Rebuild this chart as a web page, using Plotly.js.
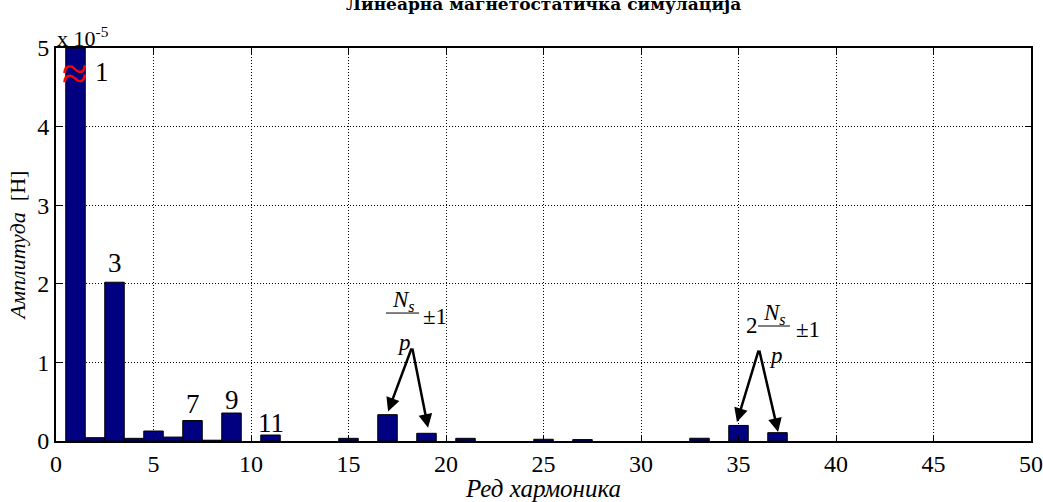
<!DOCTYPE html>
<html>
<head>
<meta charset="utf-8">
<script src="https://cdn.plot.ly/plotly-3.0.1.min.js"></script>
<style>
  html, body { margin: 0; padding: 0; background: #fff; }
  #chart { width: 1043px; height: 502px; }
</style>
</head>
<body>
<div id="chart"></div>
<script>
// Harmonic spectrum of the inductance, amplitudes in units of 1e-5 H
const harmonicOrder = [1, 2, 3, 4, 5, 6, 7, 8, 9, 11, 15, 17, 19, 21, 25, 27, 33, 35, 37];
const amplitudeE5   = [5.0, 0.042, 2.02, 0.034, 0.127, 0.05, 0.26, 0.01, 0.356, 0.076,
                       0.034, 0.335, 0.098, 0.034, 0.022, 0.018, 0.035, 0.198, 0.106];
const xTicks = [0, 5, 10, 15, 20, 25, 30, 35, 40, 45, 50];
const yTicks = [0, 1, 2, 3, 4, 5];
const labelledOrders = [3, 7, 9, 11];

const serif = 'Liberation Serif';
const valueOf = h => amplitudeE5[harmonicOrder.indexOf(h)];

const trace = {
  type: 'bar',
  x: harmonicOrder,
  y: amplitudeE5,
  width: 1,
  marker: { color: '#000080', line: { color: '#000000', width: 1 } },
  hoverinfo: 'x+y'
};

// label offsets above the bar tops (in axis units)
const labelLift = { 3: 0.245, 7: 0.21, 9: 0.165, 11: 0.153 };

const annotations = [];
labelledOrders.forEach(h => {
  annotations.push({
    x: h, y: valueOf(h) + labelLift[h], xref: 'x', yref: 'y',
    text: String(h), showarrow: false, yanchor: 'middle',
    font: { family: serif, size: 27, color: '#000' }
  });
});

// fundamental, drawn clipped with a break mark
annotations.push({
  x: 2.36, y: 4.69, xref: 'x', yref: 'y', text: '1', showarrow: false,
  font: { family: serif, size: 27, color: '#000' }
});
annotations.push({
  x: 0.97, y: 4.67, xref: 'x', yref: 'y', text: '≈', showarrow: false,
  font: { family: serif, size: 46, color: '#ff0000' }
});

// multiplier of the y axis
annotations.push({
  x: 0, y: 1, xref: 'paper', yref: 'paper', xanchor: 'left', yanchor: 'bottom',
  text: 'x 10<sup>-5</sup>', showarrow: false, yshift: -5, xshift: -1,
  font: { family: serif, size: 22, color: '#000' }
});

// title (sits partly above the page edge)
annotations.push({
  x: 0.5, y: 1, xref: 'paper', yref: 'paper', xanchor: 'center', yanchor: 'bottom',
  text: '<b>Линеарна магнетостатичка симулација</b>', showarrow: false, yshift: 32,
  font: { family: 'DejaVu Serif', size: 17, color: '#000' }
});

// slot harmonics Ns/p ± 1 and 2Ns/p ± 1
const fracFont = { family: serif, size: 23, color: '#000' };
function fraction(xc, yLine, prefixX, pmX) {
  annotations.push({ x: xc + 0.05, y: yLine + 0.15, xref: 'x', yref: 'y', showarrow: false,
    text: '<i>N<sub>s</sub></i>', font: fracFont });
  annotations.push({ x: xc + 0.1, y: yLine - 0.37, xref: 'x', yref: 'y', showarrow: false,
    text: '<i>p</i>', font: fracFont });
  annotations.push({ x: pmX, y: yLine - 0.05, xref: 'x', yref: 'y', showarrow: false,
    text: '±1', font: fracFont });
  if (prefixX !== null) {
    annotations.push({ x: prefixX, y: yLine + 0.01, xref: 'x', yref: 'y', showarrow: false,
      text: '2', font: fracFont });
  }
}
fraction(17.77, 1.628, null, 19.44);
fraction(36.82, 1.463, 35.69, 38.56);

function arrow(h, tipLift, tipDx, ax, ay) {
  annotations.push({
    x: h + tipDx, y: valueOf(h) + tipLift, xref: 'x', yref: 'y',
    ax: ax, ay: ay, axref: 'x', ayref: 'y',
    text: '', showarrow: true, arrowhead: 2, arrowsize: 1.1, arrowwidth: 2.5,
    arrowcolor: '#000', standoff: 0
  });
}
arrow(17, 0.04, 0.03, 18.26, 1.196);
arrow(19, 0.07, 0.08, 18.26, 1.196);
arrow(35, 0.045, -0.08, 36.05, 1.17);
arrow(37, 0.01, 0.03, 36.05, 1.17);

const shapes = [
  { type: 'line', xref: 'x', yref: 'y', x0: 16.92, x1: 18.62, y0: 1.628, y1: 1.628,
    line: { color: '#000', width: 1 } },
  { type: 'line', xref: 'x', yref: 'y', x0: 36.0, x1: 37.64, y0: 1.463, y1: 1.463,
    line: { color: '#000', width: 1 } }
];

const axisCommon = {
  showline: true, linecolor: '#000', linewidth: 2, mirror: 'allticks',
  ticks: 'inside', ticklen: 6, tickwidth: 1, tickcolor: '#000',
  showgrid: true, gridcolor: '#000', griddash: '1px,2px', gridwidth: 1,
  zeroline: false, tickfont: { family: serif, size: 24, color: '#000' }
};

const layout = {
  width: 1043, height: 502,
  margin: { l: 56, r: 12, t: 48, b: 61 },
  paper_bgcolor: '#fff', plot_bgcolor: '#fff',
  showlegend: false,
  xaxis: Object.assign({}, axisCommon, {
    range: [0, 50], tickmode: 'array', tickvals: xTicks, ticktext: xTicks.map(String),
    title: { text: '<i>Ред хармоника</i>', standoff: 2,
      font: { family: serif, size: 25, color: '#000' } }
  }),
  yaxis: Object.assign({}, axisCommon, {
    range: [0, 5], tickmode: 'array', tickvals: yTicks, ticktext: yTicks.map(String),
    title: { text: '<i>Амплитуда</i>  [H]', standoff: 6,
      font: { family: serif, size: 22, color: '#000' } }
  }),
  annotations: annotations,
  shapes: shapes
};

Plotly.newPlot('chart', [trace], layout, { displayModeBar: false, staticPlot: true });
</script>
</body>
</html>
